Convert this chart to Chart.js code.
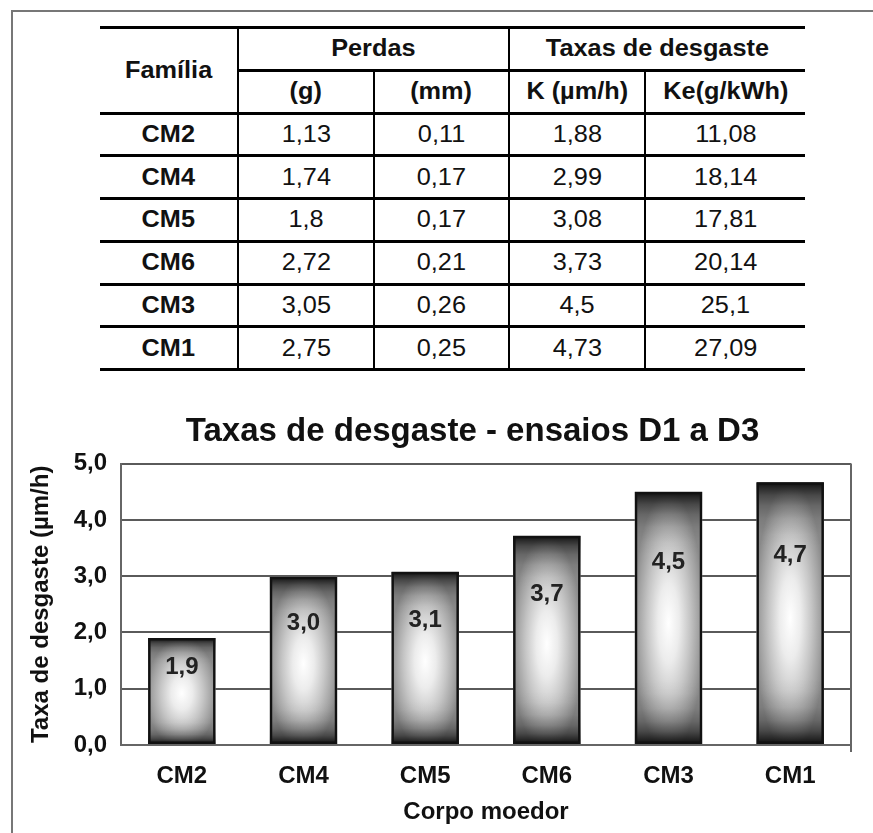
<!DOCTYPE html>
<html>
<head>
<meta charset="utf-8">
<title>Taxas de desgaste - ensaios D1 a D3</title>
<script src="https://cdn.jsdelivr.net/npm/chart.js@4.4.1/dist/chart.umd.min.js"></script>
<style>
  html, body { margin: 0; padding: 0; background: #fff; }
  body { width: 873px; height: 833px; overflow: hidden; position: relative; font-family: "Liberation Sans", Arial, sans-serif; }
  #frame { position: absolute; left: 11px; top: 10px; width: 900px; height: 900px; border-top: 2px solid #777; border-left: 2px solid #777; }
  #tabela { position: absolute; left: 100px; top: 26px; width: 705px; border-collapse: collapse; table-layout: fixed; color: #111; }
  #tabela th, #tabela td { padding: 0; height: 39.75px; text-align: center; vertical-align: middle; font-size: 23px;
    border-top: 3px solid #000; border-bottom: 3px solid #000; border-left: 2px solid #000; border-right: 2px solid #000; }
  #tabela tr > :first-child { border-left: none; }
  #tabela tr > :last-child { border-right: none; }
  #tabela th, #tabela td.fam { font-weight: bold; }
  #tabela td { font-weight: normal; }
  .s { display: inline-block; transform: scaleX(1.1); }
  #grafico { position: absolute; left: 0; top: 400px; width: 945px; height: 433px; }
</style>
</head>
<body>
<div id="frame"></div>
<table id="tabela">
  <colgroup><col style="width:138px"><col style="width:136px"><col style="width:135px"><col style="width:136px"><col style="width:160px"></colgroup>
  <thead>
    <tr><th rowspan="2"><span class="s">Família</span></th><th colspan="2"><span class="s">Perdas</span></th><th colspan="2"><span class="s">Taxas de desgaste</span></th></tr>
    <tr><th><span class="s">(g)</span></th><th><span class="s">(mm)</span></th><th><span class="s">K (µm/h)</span></th><th><span class="s">Ke(g/kWh)</span></th></tr>
  </thead>
  <tbody id="corpo"></tbody>
</table>
<div id="grafico"><canvas id="cv"></canvas></div>
<script>
// dados da tabela
const familias = ['CM2', 'CM4', 'CM5', 'CM6', 'CM3', 'CM1'];
const perdasG = [1.13, 1.74, 1.8, 2.72, 3.05, 2.75];
const perdasMm = [0.11, 0.17, 0.17, 0.21, 0.26, 0.25];
const taxaK = [1.88, 2.99, 3.08, 3.73, 4.5, 4.73];
const taxaKe = [11.08, 18.14, 17.81, 20.14, 25.1, 27.09];

// valores das barras
const barras = [1.9, 2.99, 3.08, 3.72, 4.5, 4.67];
const eixoY = { min: 0, max: 5, passo: 1 };

const virgula = v => String(v).replace('.', ',');

document.getElementById('corpo').innerHTML = familias.map((f, i) => `
  <tr>
    <td class="fam"><span class="s">${f}</span></td>
    <td><span class="s">${virgula(perdasG[i])}</span></td>
    <td><span class="s">${virgula(perdasMm[i])}</span></td>
    <td><span class="s">${virgula(taxaK[i])}</span></td>
    <td><span class="s">${virgula(taxaKe[i])}</span></td>
  </tr>`).join('');

const FONTE = "'Liberation Sans', Arial, sans-serif";

// preenchimento das barras: centro claro, bordas cinza, faixas escuras em cima/embaixo
const faixa = [[0, 0.9], [0.02, 0.72], [0.05, 0.48], [0.09, 0.26], [0.14, 0.1], [0.2, 0.02], [0.25, 0]];
const barFill = {
  id: 'barFill',
  beforeDatasetsDraw(chart) {
    const ctx = chart.ctx;
    chart.getDatasetMeta(0).data.forEach(bar => {
      const w = bar.width;
      const x0 = bar.x - w / 2;
      const y0 = Math.min(bar.y, bar.base);
      const h = Math.abs(bar.base - bar.y);
      ctx.save();
      ctx.beginPath();
      ctx.rect(x0, y0, w, h);
      ctx.clip();

      ctx.save();
      ctx.translate(bar.x, y0 + h * 0.52);
      ctx.scale(w * 0.5 * 1.05, h * 0.5 * 1.05);
      const g = ctx.createRadialGradient(0, 0, 0, 0, 0, 1);
      g.addColorStop(0, '#ffffff');
      g.addColorStop(0.3, '#ececec');
      g.addColorStop(0.6, '#c6c6c6');
      g.addColorStop(0.85, '#a2a2a2');
      g.addColorStop(1, '#8a8a8a');
      ctx.fillStyle = g;
      ctx.fillRect(-3, -3, 6, 6);
      ctx.restore();

      const v = ctx.createLinearGradient(0, y0, 0, y0 + h);
      faixa.forEach(([p, a]) => v.addColorStop(p, `rgba(0,0,0,${a})`));
      faixa.slice().reverse().forEach(([p, a]) => v.addColorStop(1 - p, `rgba(0,0,0,${a})`));
      ctx.fillStyle = v;
      ctx.fillRect(x0, y0, w, h);
      ctx.restore();
    });
  }
};

// rotulos de valor dentro das barras
const barLabels = {
  id: 'barLabels',
  afterDatasetsDraw(chart) {
    const ctx = chart.ctx;
    ctx.save();
    ctx.font = `bold 24px ${FONTE}`;
    ctx.fillStyle = '#222';
    ctx.textAlign = 'center';
    ctx.textBaseline = 'middle';
    chart.getDatasetMeta(0).data.forEach((bar, i) => {
      const y = bar.y + (bar.base - bar.y) * 0.28;
      ctx.fillText(barras[i].toFixed(1).replace('.', ','), bar.x, y);
    });
    ctx.restore();
  }
};

// borda direita da area do grafico
const plotFrame = {
  id: 'plotFrame',
  afterDraw(chart) {
    const { ctx, chartArea: a } = chart;
    ctx.save();
    ctx.strokeStyle = '#666';
    ctx.lineWidth = 2;
    ctx.beginPath();
    ctx.moveTo(a.right, a.top);
    ctx.lineTo(a.right, a.bottom + 7);
    ctx.stroke();
    ctx.restore();
  }
};

new Chart(document.getElementById('cv'), {
  type: 'bar',
  data: {
    labels: familias,
    datasets: [{
      data: barras,
      backgroundColor: 'rgba(0,0,0,0)',
      borderColor: '#111',
      borderWidth: 2.5,
      borderSkipped: false,
      categoryPercentage: 1,
      barPercentage: 0.555
    }]
  },
  options: {
    responsive: true,
    maintainAspectRatio: false,
    animation: false,
    layout: { padding: 0 },
    plugins: {
      legend: { display: false },
      tooltip: { enabled: false },
      title: {
        display: true,
        text: 'Taxas de desgaste - ensaios D1 a D3',
        color: '#111',
        font: { family: FONTE, size: 33, weight: 'bold', lineHeight: 1.2 },
        padding: { top: 12, bottom: 12 }
      }
    },
    scales: {
      x: {
        grid: { display: false },
        border: { display: true, color: '#666', width: 2 },
        ticks: { color: '#111', padding: 9, font: { family: FONTE, size: 24, weight: 'bold', lineHeight: 1.2 } },
        title: {
          display: true,
          text: 'Corpo moedor',
          color: '#111',
          font: { family: FONTE, size: 24, weight: 'bold', lineHeight: 1.2 },
          padding: { top: 0, bottom: 6 }
        },
        afterFit(s) { s.height = 88; }
      },
      y: {
        min: eixoY.min,
        max: eixoY.max,
        grid: { color: '#5a5a5a', lineWidth: 2, drawTicks: false },
        border: { display: true, color: '#666', width: 2 },
        ticks: {
          stepSize: eixoY.passo,
          padding: 14,
          color: '#111',
          font: { family: FONTE, size: 24, weight: 'bold', lineHeight: 1.2 },
          callback: v => v.toFixed(1).replace('.', ',')
        },
        title: {
          display: true,
          text: 'Taxa de desgaste (µm/h)',
          color: '#111',
          font: { family: FONTE, size: 24, weight: 'bold', lineHeight: 1.2 },
          padding: { top: 27, bottom: 0 }
        },
        afterFit(s) { s.width = 121; }
      },
      // eixo vazio a direita: so reserva espaco para o titulo ficar centrado como no original
      margem: {
        type: 'linear',
        position: 'right',
        grid: { display: false, drawTicks: false },
        border: { display: false },
        ticks: { display: false },
        afterFit(s) { s.width = 94; }
      }
    }
  },
  plugins: [barFill, barLabels, plotFrame]
});
</script>
</body>
</html>
